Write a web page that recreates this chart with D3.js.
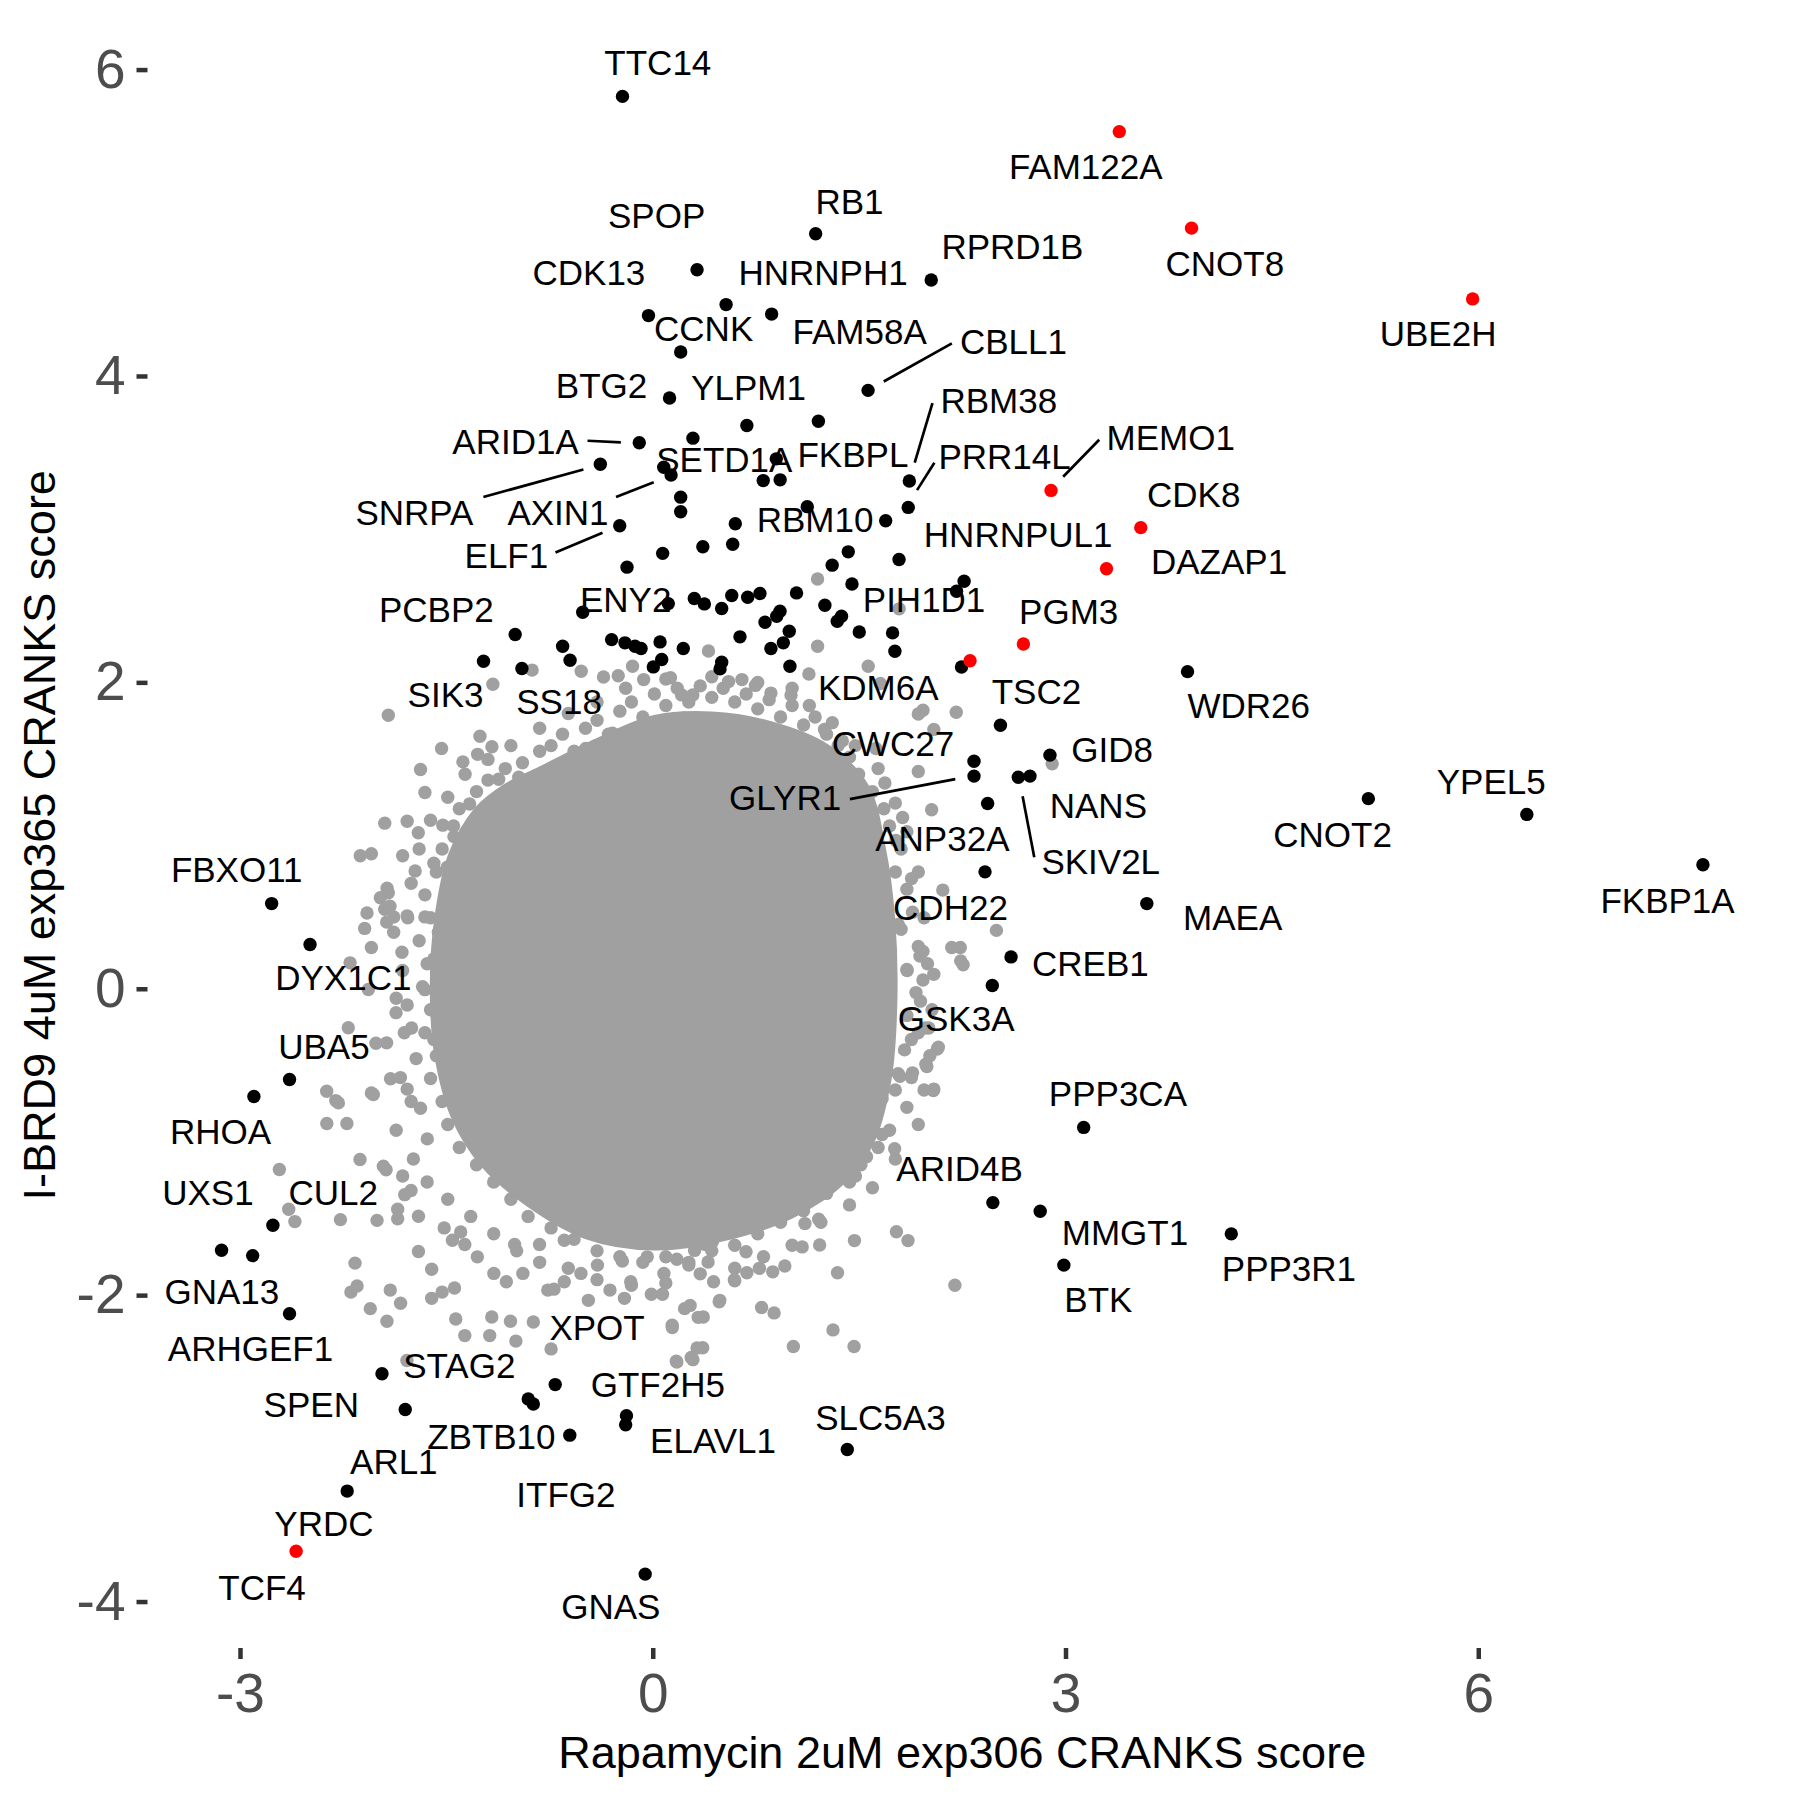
<!DOCTYPE html>
<html>
<head>
<meta charset="utf-8">
<script src="https://cdn.jsdelivr.net/npm/d3@7"></script>
<style>
  html, body { margin: 0; padding: 0; background: #ffffff; }
  svg { display: block; }
</style>
</head>
<body>
<script>
// ---------------- DATA (in data units) ----------------
const xTicks = [-3, 0, 3, 6];
const yTicks = [-4, -2, 0, 2, 4, 6];
const xTitle = "Rapamycin 2uM exp306 CRANKS score";
const yTitle = "I-BRD9 4uM exp365 CRANKS score";

// outline of the dense grey core of the cloud (x, y)
const coreOutline = [
  [-0.822,1.437],[-0.405,1.624],[0.012,1.774],[0.429,1.797],[0.846,1.737],[1.263,1.587],
  [1.555,1.325],[1.681,0.912],[1.747,0.463],[1.764,-0.062],[1.722,-0.587],[1.597,-0.999],
  [1.388,-1.261],[1.013,-1.486],[0.512,-1.636],[0.012,-1.696],[-0.489,-1.621],[-0.906,-1.411],
  [-1.240,-1.149],[-1.448,-0.849],[-1.573,-0.437],[-1.606,0.013],[-1.573,0.463],[-1.473,0.875],
  [-1.281,1.174],[-1.072,1.325]
];

// grey genes crowding the edge of the core
const greyEdgePoints = [
  [-0.739,1.587],[-0.656,1.662],[-0.572,1.550],[-0.489,1.700],[-0.405,1.752],[-0.322,1.662],[-0.239,1.812],
  [-0.155,1.872],[-0.072,1.774],[0.012,1.924],[0.095,1.849],[0.178,1.962],[0.262,1.872],[0.345,1.977],
  [0.429,1.902],[0.512,1.962],[0.596,1.872],[0.679,1.924],[0.763,1.827],[0.846,1.887],[0.929,1.774],
  [1.013,1.849],[1.096,1.722],[1.180,1.774],[1.263,1.662],[1.347,1.587],[1.430,1.512],[1.496,1.400],
  [1.596,1.287],[1.680,1.175],[1.721,1.062],[1.805,0.912],[1.763,0.762],[1.847,0.650],[1.888,0.500],
  [1.805,0.388],[1.930,0.276],[1.847,0.126],[1.913,-0.025],[1.847,-0.174],[1.930,-0.287],[1.830,-0.399],
  [1.888,-0.549],[1.763,-0.661],[1.847,-0.774],[1.721,-0.924],[1.638,-1.036],[1.513,-1.149],[1.430,-1.261],
  [1.263,-1.336],[1.096,-1.449],[0.929,-1.524],[0.763,-1.599],[0.596,-1.674],[0.429,-1.711],[0.262,-1.786],
  [0.095,-1.749],[-0.072,-1.786],[-0.239,-1.749],[-0.405,-1.711],[-0.572,-1.636],[-0.739,-1.561],
  [-0.906,-1.486],[-1.031,-1.374],[-1.156,-1.261],[-1.281,-1.149],
  [-1.406,-1.036],[-1.490,-0.886],[-1.531,-0.736],[-1.615,-0.586],[-1.573,-0.437],[-1.656,-0.287],
  [-1.615,-0.137],[-1.673,0.013],[-1.640,0.163],[-1.698,0.313],[-1.615,0.463],[-1.656,0.613],[-1.573,0.762],
  [-1.531,0.912],[-1.448,1.062],[-1.406,1.175],[-1.281,1.287],[-1.198,1.362],[-1.072,1.437],[-0.947,1.475],
  [-0.822,1.550],
  [-1.781,0.463],[-1.823,0.238],[-1.865,-0.062],[-1.806,-0.287],[-1.906,-0.587],[-1.756,-0.736],
  [-1.865,-0.924],[-1.740,-1.111],[-1.640,-1.261],[-1.490,-1.374],[-1.323,-1.486],[-1.156,-1.599],
  [-0.989,-1.711],[-0.822,-1.786],[-0.614,-1.824],[-0.405,-1.899],[-0.155,-1.936],[0.095,-1.921],
  [0.345,-1.861],[0.596,-1.824],[0.805,-1.749],[1.013,-1.674],[1.222,-1.524],[1.430,-1.411],[1.597,-1.299],
  [1.763,-1.111],[1.930,-0.886],[1.972,-0.661],[2.014,-0.437],[2.030,-0.137],[1.997,0.163],[1.972,0.463],
  [1.930,0.762],[1.847,1.025],[1.763,1.212],[1.638,1.437],[1.472,1.587],[1.305,1.737],[1.138,1.849],
  [1.013,1.962],[0.763,1.999],[0.429,2.037],[0.095,2.022],[-0.197,1.962],[-0.405,1.872],[-0.614,1.797],
  [-0.822,1.700],[-1.031,1.587],[-1.198,1.497],[-1.364,1.400],[-1.490,1.250],[-1.615,1.100],[-1.698,0.912],
  [-1.756,0.688]
];

// scattered grey (non-hit) genes around the core
const greyPoints = [
  [1.198,2.675],[1.198,2.236],[1.791,2.480],[1.566,2.105],
  [-1.922,1.785],[-1.162,1.988],[-0.877,2.080],[-0.520,2.073],[-0.358,2.035],[-0.251,2.043],[-0.147,2.105],
  [-0.066,2.018],[0.129,2.030],[0.210,1.918],[0.291,1.918],[0.405,2.205],[0.551,2.005],[0.648,2.018],
  [0.746,1.980],[0.859,1.930],[1.005,1.918],[1.135,2.055],[1.654,1.993],[1.930,1.793],[2.206,1.805],
  [2.043,1.693],[1.248,1.693],[1.378,1.618],[1.622,1.568],[1.687,1.343],[1.930,1.418],[2.027,1.168],
  [1.816,1.118],[1.768,0.968],[1.881,0.719],[2.108,0.644],[2.173,0.269],[2.238,0.182],[2.043,0.094],
  [1.979,-0.256],[2.076,-0.381],[2.043,-0.655],[1.784,-0.555],[1.719,-0.131],[1.946,-0.081],[1.849,0.119],
  [1.784,0.419],
  [-1.256,1.648],[-1.169,1.580],[-1.273,1.530],[-1.535,1.568],[-1.688,1.431],[-1.380,1.481],[-1.120,1.368],
  [-0.974,1.381],[-0.861,1.281],[-0.698,1.443],[-0.585,1.393],[-0.487,1.568],[-0.293,1.668],[-0.179,1.643],
  [0.032,1.693],[0.226,1.768],
  [-1.656,1.281],[-1.331,1.206],[-1.169,1.143],[-1.039,1.231],[-1.039,1.068],[-1.948,1.081],[-1.785,1.093],
  [-1.704,1.018],[-1.526,1.068],[-1.445,0.993],[-2.126,0.868],[-2.045,0.881],[-1.818,0.868],[-1.727,0.769],
  [-1.591,0.819],[-1.493,0.794],[-1.931,0.656],[-1.980,0.594],[-1.948,0.519],[-2.077,0.494],[-2.094,0.394],
  [-1.883,0.469],[-1.785,0.476],[-1.656,0.469],[-1.558,0.369],[-2.045,0.269],[-1.883,0.369],[-1.785,-0.106],
  [-1.866,-0.156],[-2.012,-0.356],[-2.045,-0.680],[-2.304,-0.730],[-2.369,-0.880],[-2.223,-0.880],
  [-1.834,-0.580],[-1.785,-0.655],[-1.688,-0.780],[-1.639,-0.980],[-1.753,-0.256],[-1.720,-0.456],
  [-1.818,0.119],[-1.656,-0.006],[-1.591,0.194],[-1.591,-0.331],
  [-1.922,0.626],[-1.934,0.435],[-1.910,0.539],[-2.200,0.169],[-2.067,-0.005],[-2.213,-0.255],[-1.934,-0.353],
  [-2.370,-0.669],[-2.285,-0.745],[-2.031,-0.690],[-2.128,-1.115],[-2.714,-1.180],[-1.958,-1.158],
  [-2.646,-1.439],[-2.601,-1.520],[-2.270,-1.507],[-2.004,-1.512],[-1.854,-1.439],[-1.854,-1.501],
  [-1.703,-1.485],[-1.938,-1.182],[-1.818,-1.222],[-1.803,-1.344],[-1.757,-1.317],[-1.703,-1.715],
  [-2.164,-1.791],[-2.194,-1.980],[-2.149,-1.940],[-2.053,-2.088],[-1.932,-2.170],[-1.908,-1.967],
  [-1.833,-2.053],[-1.607,-1.831],[-1.531,-1.980],[-1.607,-2.021],[-1.441,-1.953],[-1.432,-2.156],
  [-1.366,-2.264],[-1.185,-2.264],[-1.170,-2.143],[-0.995,-2.300],[-1.034,-2.170],[-0.868,-2.175],
  [-0.739,-2.351],[-0.718,-1.961],[-0.468,-2.034],[-0.206,-2.021],[0.322,-2.345],[0.171,-2.432],
  [0.292,-2.421],[0.367,-2.143],[0.487,-2.034],[0.593,-1.899],[0.141,-2.197],[0.231,-2.088],
  [-1.456,-1.642],[-1.366,-1.669],[-1.275,-1.750],[-1.516,-1.561],[-1.396,-1.588],[-1.155,-1.858],
  [-1.064,-1.913],[-0.944,-1.858],[-0.763,-1.967],[-0.643,-1.913],[-0.522,-1.858],[-0.311,-1.967],
  [-0.160,-1.913],[-0.010,-1.994],[-0.402,-1.804],[-0.221,-1.777],[-0.040,-1.750],[0.081,-1.858],
  [0.262,-1.804],[0.442,-1.913],[-0.823,-1.669],[-0.643,-1.642],[-1.004,-1.669],[0.201,-1.642],
  [0.382,-1.669],[0.562,-1.588],[-1.787,-2.427],
  [2.196,-1.935],[1.463,-2.335],[1.310,-2.227],[1.022,-2.335],[1.771,-1.586],[1.855,-1.644],[2.040,-0.665],
  [1.758,-1.044],[1.554,-1.096],[1.473,-1.222],[1.466,-1.644],[1.343,-1.854],[1.213,-1.673],[1.086,-1.685],
  [1.106,-1.533],[1.206,-1.504],[0.960,-1.810],[0.872,-1.848],[0.775,-1.825],[0.791,-2.081],[0.882,-2.116],
  [0.684,-1.854],[0.678,-1.717],[0.483,-2.043],[0.402,-1.784],[0.330,-2.145],[0.363,-2.343],[0.279,-2.407],
  [0.175,-2.437],[0.142,-2.212],[0.272,-2.067],[0.596,-1.906],[0.071,-1.994],[1.797,-0.572],[1.992,-0.508],
  [1.667,-0.718],[1.602,-0.863],[1.667,-0.951],[1.505,-0.980],[1.294,-1.038],[1.278,-1.169],[1.051,-1.242],
  [1.148,-1.359],[0.856,-1.417],[0.726,-1.504],[0.434,-1.650],[0.175,-1.766],[0.304,-1.708],
  [2.498,0.381],[2.235,0.269],[2.256,0.157],[1.964,0.244],[1.964,0.057],[2.006,-0.256],[2.068,-0.393],
  [1.985,-0.493],[1.880,-0.331],[1.880,-0.580],[2.903,1.468],[1.942,0.213],[1.964,1.818]
];

// black hits
const blackPoints = [
  [-0.220,5.825],[1.184,4.928],[0.322,4.693],[2.024,4.626],[-0.031,4.394],[0.533,4.466],[0.864,4.404],
  [0.203,4.156],[1.565,3.906],[0.122,3.856],[0.684,3.677],[1.204,3.704],[-0.098,3.564],[0.292,3.594],
  [-0.381,3.424],[0.080,3.404],[0.133,3.354],[0.898,3.459],[0.803,3.317],[0.926,3.322],[1.865,3.314],
  [1.857,3.142],[1.123,3.147],[1.693,3.055],[0.203,3.209],[0.203,3.114],[0.600,3.035],[-0.240,3.022],
  [0.072,2.842],[0.364,2.885],[0.581,2.902],[-0.187,2.752],[1.421,2.852],[1.304,2.765],[1.790,2.802],
  [1.448,2.642],[2.263,2.660],[2.208,2.595],[-0.509,2.458],[0.113,2.514],[0.302,2.547],[0.375,2.512],
  [0.501,2.482],[0.574,2.567],[0.690,2.556],[0.779,2.580],[0.816,2.392],[0.925,2.464],[0.901,2.432],
  [-0.299,2.279],[-0.202,2.258],[-0.129,2.236],[-0.085,2.221],[0.053,2.264],[0.222,2.221],[-0.655,2.236],
  [-0.601,2.144],[0.004,2.101],[0.065,2.149],[0.501,2.131],[0.489,2.088],[0.634,2.297],[0.859,2.221],
  [0.949,2.258],[1.045,2.584],[1.251,2.503],[1.372,2.432],[1.341,2.399],[1.501,2.329],[1.743,2.323],
  [1.760,2.203],[0.992,2.334],[0.997,2.105],[2.244,2.100],[-1.000,2.312],[-1.230,2.138],[-0.951,2.090],
  [3.887,2.070],[2.527,1.720],[2.887,1.525],[2.335,1.485],[2.335,1.388],[2.657,1.381],[2.742,1.388],
  [2.434,1.209],[2.415,0.763],[2.604,0.208],[2.468,0.021],[5.201,1.241],[6.353,1.138],[7.633,0.809],
  [3.591,0.556],[3.132,-0.905],[2.472,-1.396],[2.816,-1.452],[2.988,-1.804],[4.205,-1.600],[1.414,-3.008],
  [-2.770,0.556],[-2.491,0.289],[-2.640,-0.592],[-2.899,-0.703],[-2.761,-1.544],[-3.134,-1.707],
  [-2.908,-1.742],[-2.640,-2.121],[-1.968,-2.513],[-1.799,-2.746],[-0.905,-2.678],[-0.868,-2.711],
  [-0.709,-2.584],[-0.603,-2.914],[-0.191,-2.787],[-0.197,-2.846],[-2.221,-3.279],[-0.055,-3.821]
];

// red hits
const redPoints = [
  [3.391,5.595],[3.916,4.965],[5.959,4.503],[2.895,3.253],[3.547,3.010],[3.298,2.742],
  [2.694,2.250],[2.306,2.141],[-2.592,-3.672]
];

// gene labels: [name, label centre x, label centre y]
const labels = [
  ["TTC14",0.037,6.047],["FAM122A",3.147,5.370],["RB1",1.430,5.140],["SPOP",0.028,5.050],
  ["RPRD1B",2.614,4.848],["CNOT8",4.158,4.736],["CDK13",-0.464,4.676],["HNRNPH1",1.238,4.676],
  ["CCNK",0.370,4.308],["FAM58A",1.504,4.293],["UBE2H",5.708,4.278],["CBLL1",2.622,4.226],
  ["BTG2",-0.372,3.941],["YLPM1",0.696,3.926],["RBM38",2.515,3.843],["ARID1A",-0.997,3.573],
  ["MEMO1",3.765,3.600],["SETD1A",0.520,3.455],["FKBPL",1.455,3.485],["PRR14L",2.557,3.477],
  ["SNRPA",-1.732,3.110],["AXIN1",-0.689,3.110],["CDK8",3.932,3.229],["RBM10",1.180,3.064],
  ["HNRNPUL1",2.656,2.966],["ELF1",-1.064,2.826],["DAZAP1",4.116,2.786],["ENY2",-0.197,2.541],
  ["PIH1D1",1.972,2.541],["PCBP2",-1.573,2.474],["PGM3",3.023,2.466],["KDM6A",1.639,1.964],
  ["SIK3",-1.506,1.918],["SS18",-0.681,1.873],["TSC2",2.789,1.941],["WDR26",4.332,1.851],
  ["CWC27",1.746,1.603],["GID8",3.339,1.565],["GLYR1",0.962,1.250],["YPEL5",6.094,1.355],
  ["NANS",3.239,1.197],["CNOT2",4.941,1.010],["ANP32A",2.105,0.980],["SKIV2L",3.256,0.830],
  ["FBXO11",-3.024,0.777],["CDH22",2.164,0.531],["FKBP1A",7.376,0.576],["MAEA",4.215,0.463],
  ["CREB1",3.181,0.163],["DYX1C1",-2.249,0.073],["GSK3A",2.205,-0.197],["UBA5",-2.390,-0.377],
  ["PPP3CA",3.381,-0.684],["RHOA",-3.141,-0.932],["ARID4B",2.230,-1.172],["UXS1",-3.233,-1.329],
  ["CUL2",-2.323,-1.329],["MMGT1",3.432,-1.591],["PPP3R1",4.624,-1.824],["GNA13",-3.132,-1.975],
  ["BTK",3.239,-2.026],["XPOT",-0.405,-2.213],["ARHGEF1",-2.924,-2.348],["STAG2",-1.406,-2.460],
  ["GTF2H5",0.037,-2.580],["SPEN",-2.482,-2.715],["SLC5A3",1.655,-2.800],["ZBTB10",-1.173,-2.925],
  ["ELAVL1",0.438,-2.949],["ARL1",-1.882,-3.084],["ITFG2",-0.631,-3.302],["YRDC",-2.390,-3.489],
  ["TCF4",-2.840,-3.909],["GNAS",-0.305,-4.035]
];

// label connector segments: [x1, y1, x2, y2]
const segments = [
  [1.679,3.964,2.174,4.213],
  [-0.474,3.577,-0.232,3.567],
  [-1.231,3.210,-0.504,3.389],
  [-0.267,3.210,0.007,3.307],
  [-0.707,2.847,-0.365,2.977],
  [1.904,3.434,2.033,3.822],
  [1.921,3.255,2.047,3.434],
  [2.983,3.342,3.245,3.584],
  [1.433,1.238,2.199,1.368],
  [2.688,1.257,2.773,0.858]
];

// ---------------- DRAWING ----------------
const W = 1800, H = 1800;
const panel = { left: 147.5, right: 1777, top: 22.5, bottom: 1648 };
const FONT = "'Liberation Sans', Arial, Helvetica, sans-serif";

const allPts = greyPoints.concat(greyEdgePoints, blackPoints, redPoints);
const xExt = d3.extent(allPts, d => d[0]);
const yExt = d3.extent(allPts, d => d[1]);
const xPad = (xExt[1] - xExt[0]) * 0.05;
const yPad = (yExt[1] - yExt[0]) * 0.05;

const x = d3.scaleLinear().domain([xExt[0] - xPad, xExt[1] + xPad]).range([panel.left, panel.right]);
const y = d3.scaleLinear().domain([yExt[0] - yPad, yExt[1] + yPad]).range([panel.bottom, panel.top]);

const svg = d3.select("body").append("svg")
  .attr("width", W).attr("height", H)
  .attr("viewBox", `0 0 ${W} ${H}`)
  .style("font-family", FONT);

svg.append("rect").attr("width", W).attr("height", H).attr("fill", "#ffffff");

const R = 6.7;
const GREY = "#a0a0a0";

// grey core
svg.append("path")
  .datum(coreOutline)
  .attr("d", d3.line().x(d => x(d[0])).y(d => y(d[1])).curve(d3.curveCatmullRomClosed))
  .attr("fill", GREY)
  .attr("stroke", GREY)
  .attr("stroke-width", 4);

svg.append("g").selectAll("circle").data(greyEdgePoints).join("circle")
  .attr("cx", d => x(d[0])).attr("cy", d => y(d[1])).attr("r", R).attr("fill", GREY);

svg.append("g").selectAll("circle").data(greyPoints).join("circle")
  .attr("cx", d => x(d[0])).attr("cy", d => y(d[1])).attr("r", R).attr("fill", GREY);

svg.append("g").selectAll("circle").data(blackPoints).join("circle")
  .attr("cx", d => x(d[0])).attr("cy", d => y(d[1])).attr("r", R).attr("fill", "#000000");

svg.append("g").selectAll("circle").data(redPoints).join("circle")
  .attr("cx", d => x(d[0])).attr("cy", d => y(d[1])).attr("r", R).attr("fill", "#ff0000");

// segments
svg.append("g").selectAll("line").data(segments).join("line")
  .attr("x1", d => x(d[0])).attr("y1", d => y(d[1]))
  .attr("x2", d => x(d[2])).attr("y2", d => y(d[3]))
  .attr("stroke", "#000").attr("stroke-width", 2.7);

// labels
const LFS = 35;
svg.append("g").selectAll("text").data(labels).join("text")
  .attr("x", d => x(d[1]))
  .attr("y", d => y(d[2]) + 0.358 * LFS)
  .attr("text-anchor", "middle")
  .attr("font-size", LFS)
  .attr("fill", "#000")
  .text(d => d[0]);

// axes
const TFS = 55;
const fmt = v => (v < 0 ? "-" : "") + Math.abs(v);

const xAxis = svg.append("g").attr("transform", `translate(0,${panel.bottom})`)
  .call(d3.axisBottom(x).tickValues(xTicks).tickFormat(fmt).tickSize(11).tickSizeOuter(0).tickPadding(14));
xAxis.select(".domain").remove();
xAxis.selectAll(".tick line").attr("stroke", "#333333").attr("stroke-width", 4.5);
xAxis.selectAll(".tick text").attr("font-size", TFS).attr("fill", "#4d4d4d").attr("font-family", FONT);

const yAxis = svg.append("g").attr("transform", `translate(${panel.left},0)`)
  .call(d3.axisLeft(y).tickValues(yTicks).tickFormat(fmt).tickSize(11).tickSizeOuter(0).tickPadding(11));
yAxis.select(".domain").remove();
yAxis.selectAll(".tick line").attr("stroke", "#333333").attr("stroke-width", 4.5);
yAxis.selectAll(".tick text").attr("font-size", TFS).attr("fill", "#4d4d4d").attr("font-family", FONT);

// axis titles
svg.append("text")
  .attr("x", (panel.left + panel.right) / 2)
  .attr("y", 1768)
  .attr("text-anchor", "middle")
  .attr("font-size", 45)
  .attr("fill", "#000")
  .text(xTitle);

svg.append("text")
  .attr("transform", `translate(55,${(panel.top + panel.bottom) / 2}) rotate(-90)`)
  .attr("text-anchor", "middle")
  .attr("font-size", 45)
  .attr("fill", "#000")
  .text(yTitle);
</script>
</body>
</html>
